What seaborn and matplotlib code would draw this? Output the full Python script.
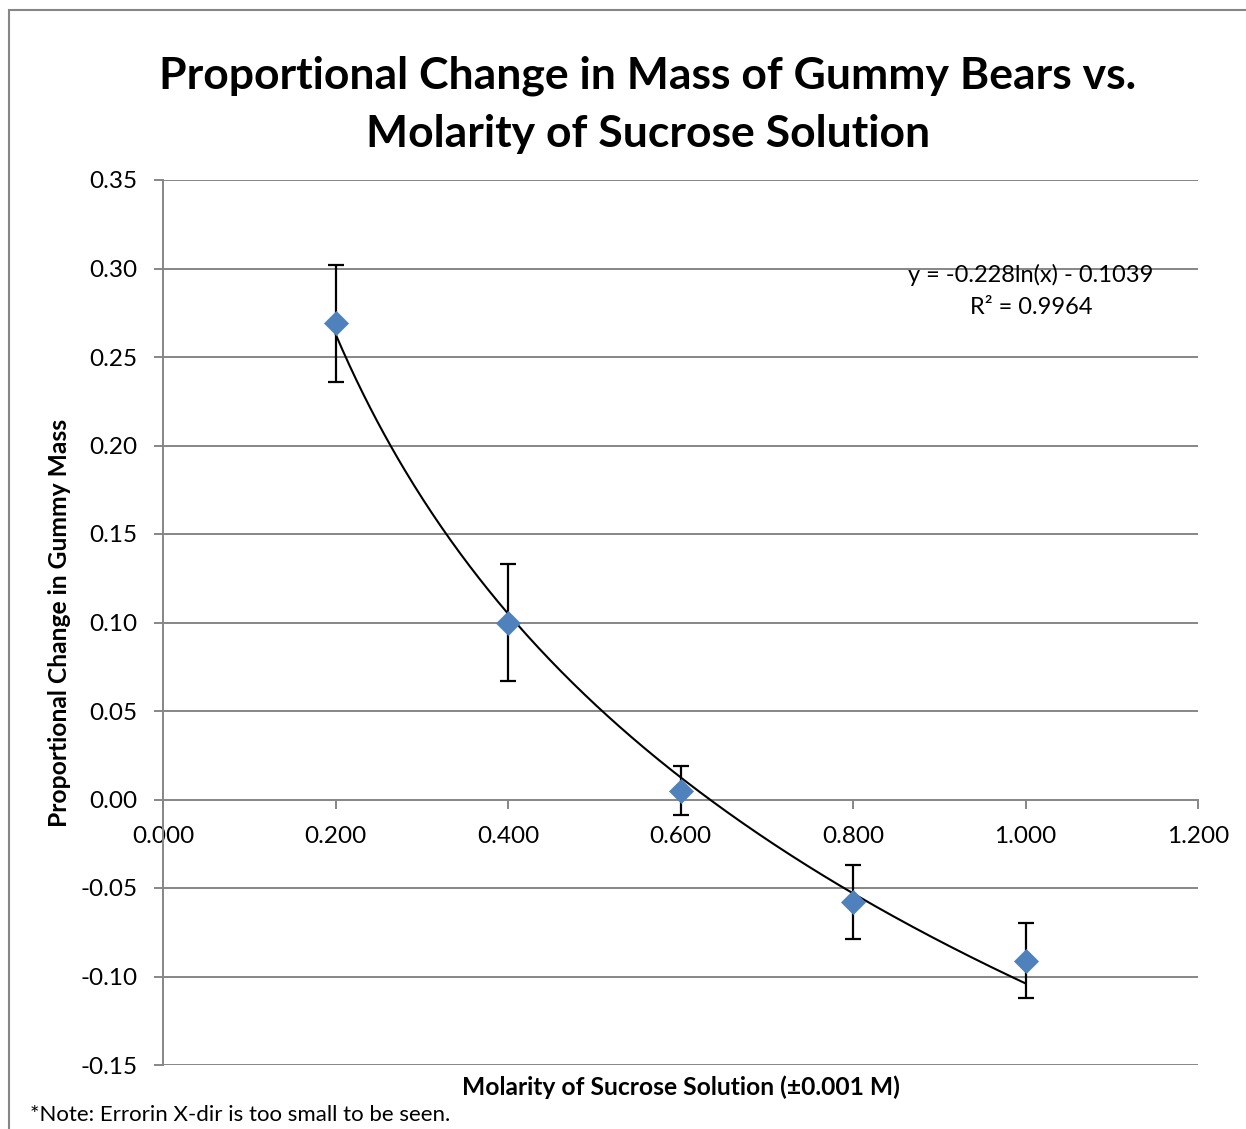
import numpy as np
import pandas as pd
import seaborn as sns
import matplotlib
matplotlib.use("Agg")
import matplotlib.pyplot as plt
from matplotlib.patches import Rectangle

# ---- data ----
molarity = [0.2, 0.4, 0.6, 0.8, 1.0]
prop_change = [0.269, 0.100, 0.005, -0.058, -0.091]
y_err = [0.033, 0.033, 0.014, 0.021, 0.021]
trend_a = -0.228
trend_b = -0.1039
x_ticks = [0.0, 0.2, 0.4, 0.6, 0.8, 1.0, 1.2]
y_ticks = [-0.15, -0.10, -0.05, 0.00, 0.05, 0.10, 0.15, 0.20, 0.25, 0.30, 0.35]

sns.set_theme(style="white")
plt.rcParams['font.family'] = ['Lato', 'DejaVu Sans']
plt.rcParams['text.color'] = 'black'
plt.rcParams['xtick.color'] = 'black'
plt.rcParams['ytick.color'] = 'black'

W, H = 1246, 1129
fig = plt.figure(figsize=(W / 100, H / 100), dpi=100)
ax = fig.add_axes([163 / W, 1 - 1065 / H, (1198 - 163) / W, (1065 - 180) / H])

grid_c = "#868686"

for s in ["top", "right"]:
    ax.spines[s].set_visible(False)
ax.spines["left"].set_color(grid_c)
ax.spines["left"].set_linewidth(1.4)
ax.spines["bottom"].set_position(("data", 0))
ax.spines["bottom"].set_color(grid_c)
ax.spines["bottom"].set_linewidth(1.4)

for yt in y_ticks:
    if yt != 0:
        ax.axhline(yt, color=grid_c, lw=1.4, zorder=0)

df = pd.DataFrame({"x": molarity, "y": prop_change})
trend_x = np.linspace(0.2, 1.0, 300)
trend_df = pd.DataFrame({"x": trend_x, "y": trend_a * np.log(trend_x) + trend_b})
sns.lineplot(data=trend_df, x="x", y="y", ax=ax, color="black", lw=1.5, zorder=3)
ax.errorbar(molarity, prop_change, yerr=y_err, fmt="none", ecolor="black",
            elinewidth=1.6, capsize=6, capthick=1.6, zorder=2)
sns.scatterplot(data=df, x="x", y="y", ax=ax, marker="D", s=150, color="#4F81BD",
                edgecolor="#4F81BD", linewidth=0.5, zorder=4)

ax.set_xlim(0, 1.2)
ax.set_ylim(-0.15, 0.35)
ax.set_xticks(x_ticks)
ax.set_xticklabels([f"{v:.3f}" for v in x_ticks])
ax.set_yticks(y_ticks)
ax.set_yticklabels([f"{v:.2f}" for v in y_ticks])
ax.tick_params(axis="x", direction="out", length=6.5, width=1.4, color=grid_c,
               pad=12.5, labelsize=17.5, labelcolor="black", bottom=True)
ax.tick_params(axis="y", direction="out", length=6.5, width=1.4, color=grid_c,
               pad=12, labelsize=17.5, labelcolor="black", left=True)

ax.set_xlabel("")
ax.set_ylabel("")
fig.text(680.5 / W, 1 - 1087 / H, "Molarity of Sucrose Solution (±0.001 M)",
         ha="center", va="center", fontsize=17.7, fontweight="bold")
fig.text(60 / W, 1 - 622.5 / H, "Proportional Change in Gummy Mass",
         ha="center", va="center", rotation=90, fontsize=17.7, fontweight="bold")

fig.text(648 / W, 1 - 76 / H, "Proportional Change in Mass of Gummy Bears vs.",
         ha="center", va="center", fontsize=32, fontweight="bold")
fig.text(648 / W, 1 - 134 / H, "Molarity of Sucrose Solution",
         ha="center", va="center", fontsize=32, fontweight="bold")

fig.text(1031 / W, 1 - 275 / H, "y = -0.228ln(x) - 0.1039", ha="center", va="center", fontsize=17)
fig.text(1031 / W, 1 - 307 / H, "R² = 0.9964", ha="center", va="center", fontsize=17)

fig.text(30 / W, 1 - 1115 / H, "*Note: Errorin X-dir is too small to be seen.",
         ha="left", va="center", fontsize=16)

fig.patches.append(Rectangle((9 / W, -0.05), 1.2, 1 - 10 / H + 0.05, transform=fig.transFigure,
                             fill=False, edgecolor=grid_c, lw=1.5, zorder=10))

fig.savefig("out.png", dpi=100)
